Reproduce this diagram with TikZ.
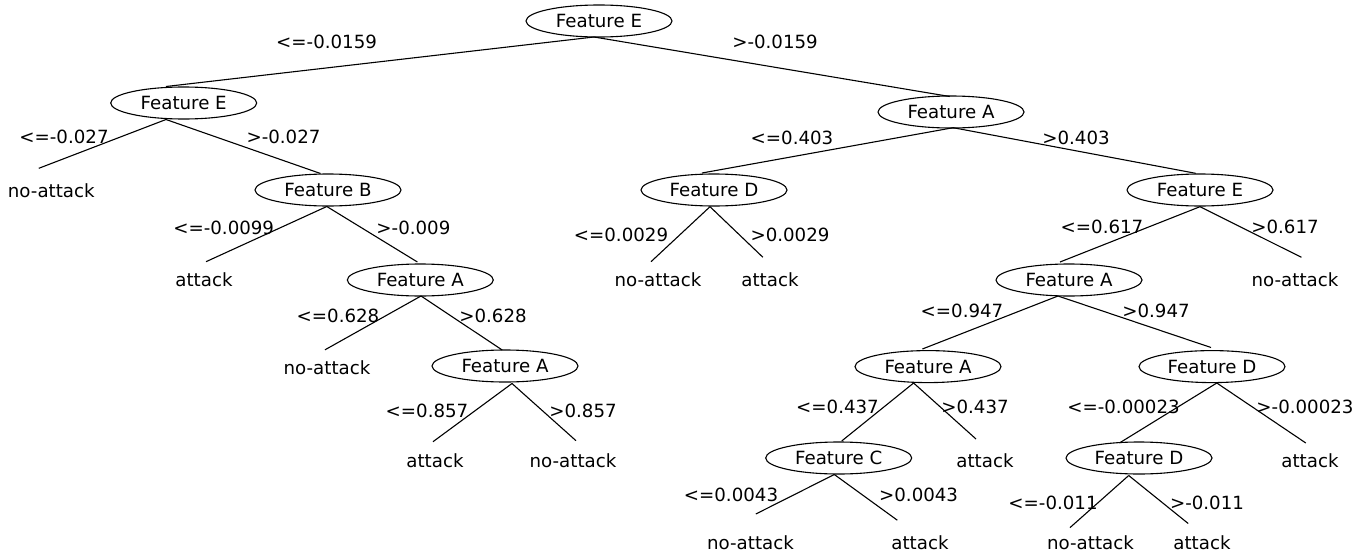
\documentclass[tikz,border=0pt]{standalone}
\usepackage{fontspec}
\setmainfont{DejaVu Sans}
\usetikzlibrary{shapes.geometric}
\begin{document}
\begin{tikzpicture}[x=1pt,y=-1pt,
  every node/.style={font=\fontsize{18.2}{22}\selectfont},
  feat/.style={ellipse, draw, line width=1.1pt, minimum width=146pt, minimum height=32pt, inner sep=0pt},
  lbl/.style={anchor=base, inner sep=0pt},
  conn/.style={line width=1.1pt}]
\useasboundingbox (0,0) rectangle (1371,554);

% internal nodes
\node[feat] (root) at (599,21) {Feature E};
\node[feat] (e1) at (183.7,103) {Feature E};
\node[feat] (b1) at (328,190) {Feature B};
\node[feat] (a1) at (420.3,280) {Feature A};
\node[feat] (a2) at (505,366) {Feature A};
\node[feat] (a0) at (951,112) {Feature A};
\node[feat] (d1) at (714,190) {Feature D};
\node[feat] (e2) at (1200,190) {Feature E};
\node[feat] (a3) at (1069,280) {Feature A};
\node[feat] (a4) at (928,366.6) {Feature A};
\node[feat] (d2) at (1212,366.6) {Feature D};
\node[feat] (c1) at (838.7,458) {Feature C};
\node[feat] (d3) at (1139,458) {Feature D};

% attach points
\coordinate (rootB) at (594,37);
\coordinate (e1T) at (166,86.5);   \coordinate (e1B) at (166,119.5);
\coordinate (b1T) at (320.5,173.5); \coordinate (b1B) at (326.8,206.5);
\coordinate (a1T) at (417.4,262);  \coordinate (a1B) at (421,296);
\coordinate (a2T) at (502.2,350);  \coordinate (a2B) at (512,383.5);
\coordinate (a0T) at (949.7,96.5); \coordinate (a0B) at (953.2,127.7);
\coordinate (d1T) at (702,173);    \coordinate (d1B) at (710,206.7);
\coordinate (e2T) at (1195.6,173.3); \coordinate (e2B) at (1200,206.7);
\coordinate (a3T) at (1060,262);   \coordinate (a3B) at (1058,296);
\coordinate (a4T) at (922.4,349);  \coordinate (a4B) at (913.6,383);
\coordinate (d2T) at (1211,347.5); \coordinate (d2B) at (1216.8,383);
\coordinate (c1T) at (841.7,441);  \coordinate (c1B) at (834.3,474.5);
\coordinate (d3T) at (1119.4,443); \coordinate (d3B) at (1128.7,475.5);

% leaf end points
\coordinate (l1T) at (38.8,168.3);
\coordinate (l2T) at (206,261.7);
\coordinate (l3T) at (325,349.8);
\coordinate (l4T) at (433,441.7);
\coordinate (l5T) at (576,440.7);
\coordinate (l6T) at (651,261.7);
\coordinate (l7T) at (762.9,257.3);
\coordinate (l8T) at (1301.4,257.3);
\coordinate (l9T) at (976,439);
\coordinate (l10T) at (1305.8,443);
\coordinate (l11T) at (755.8,514);
\coordinate (l12T) at (897.3,520.2);
\coordinate (l13T) at (1070,527.6);
\coordinate (l14T) at (1188.2,523.5);

% leaves
\node[lbl] (l1) at (51.3,197.8) {no-attack};
\node[lbl] (l2) at (204,286.8) {attack};
\node[lbl] (l3) at (327,374.2) {no-attack};
\node[lbl] (l4) at (435,467.1) {attack};
\node[lbl] (l5) at (573,467.1) {no-attack};
\node[lbl] (l6) at (658,286.8) {no-attack};
\node[lbl] (l7) at (770,286.8) {attack};
\node[lbl] (l8) at (1295,286.8) {no-attack};
\node[lbl] (l9) at (985,467.1) {attack};
\node[lbl] (l10) at (1310,467.1) {attack};
\node[lbl] (l11) at (750.5,549.8) {no-attack};
\node[lbl] (l12) at (920,549.8) {attack};
\node[lbl] (l13) at (1090.5,549.8) {no-attack};
\node[lbl] (l14) at (1202,549.8) {attack};

% connectors
\draw[conn] (rootB) -- (e1T);
\draw[conn] (rootB) -- (a0T);
\draw[conn] (e1B) -- (l1T);
\draw[conn] (e1B) -- (b1T);
\draw[conn] (b1B) -- (l2T);
\draw[conn] (b1B) -- (a1T);
\draw[conn] (a1B) -- (l3T);
\draw[conn] (a1B) -- (a2T);
\draw[conn] (a2B) -- (l4T);
\draw[conn] (a2B) -- (l5T);
\draw[conn] (a0B) -- (d1T);
\draw[conn] (a0B) -- (e2T);
\draw[conn] (d1B) -- (l6T);
\draw[conn] (d1B) -- (l7T);
\draw[conn] (e2B) -- (a3T);
\draw[conn] (e2B) -- (l8T);
\draw[conn] (a3B) -- (a4T);
\draw[conn] (a3B) -- (d2T);
\draw[conn] (a4B) -- (c1T);
\draw[conn] (a4B) -- (l9T);
\draw[conn] (d2B) -- (d3T);
\draw[conn] (d2B) -- (l10T);
\draw[conn] (c1B) -- (l11T);
\draw[conn] (c1B) -- (l12T);
\draw[conn] (d3B) -- (l13T);
\draw[conn] (d3B) -- (l14T);

% edge labels
\node[lbl] (t1) at (326.6,48.6) {<=-0.0159};
\node[lbl] (t2) at (775,48.6) {>-0.0159};
\node[lbl] (t3) at (64,143.3) {<=-0.027};
\node[lbl] (t4) at (283.5,143.6) {>-0.027};
\node[lbl] (t5) at (223.7,234.3) {<=-0.0099};
\node[lbl] (t6) at (413.4,234.6) {>-0.009};
\node[lbl] (t7) at (338,322.9) {<=0.628};
\node[lbl] (t8) at (493,322.9) {>0.628};
\node[lbl] (t9) at (427,417.9) {<=0.857};
\node[lbl] (t10) at (583,417.9) {>0.857};
\node[lbl] (t11) at (792,144.9) {<=0.403};
\node[lbl] (t12) at (1076,144.9) {>0.403};
\node[lbl] (t13) at (621,241.6) {<=0.0029};
\node[lbl] (t14) at (790,241.6) {>0.0029};
\node[lbl] (t15) at (1102,233.9) {<=0.617};
\node[lbl] (t16) at (1285,233.9) {>0.617};
\node[lbl] (t17) at (962,317.8) {<=0.947};
\node[lbl] (t18) at (1156,317.8) {>0.947};
\node[lbl] (t19) at (837.5,413.6) {<=0.437};
\node[lbl] (t20) at (975,413.6) {>0.437};
\node[lbl] (t21) at (1123.5,413.6) {<=-0.00023};
\node[lbl] (t22) at (1305,413.6) {>-0.00023};
\node[lbl] (t23) at (731,501.4) {<=0.0043};
\node[lbl] (t24) at (918.6,501.6) {>0.0043};
\node[lbl] (t25) at (1053,509.2) {<=-0.011};
\node[lbl] (t26) at (1207,509.2) {>-0.011};
\end{tikzpicture}
\end{document}
